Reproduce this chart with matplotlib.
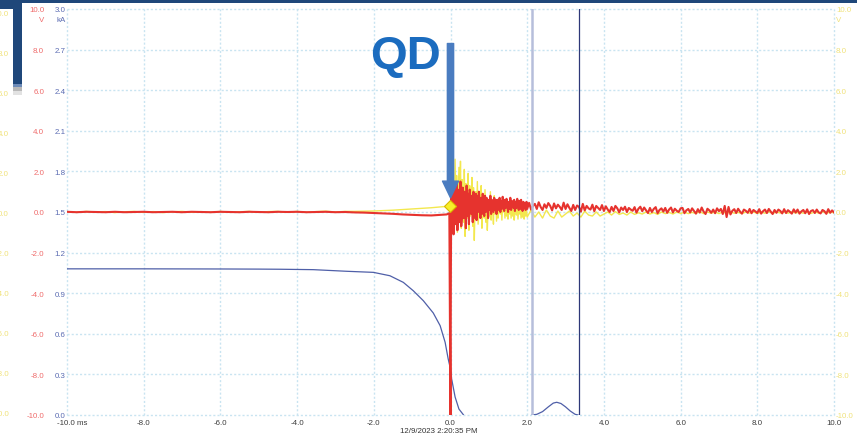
import numpy as np
import matplotlib
matplotlib.use("Agg")
import matplotlib.pyplot as plt
from matplotlib.patches import Rectangle

plt.rcParams['font.family'] = ['Liberation Sans', 'DejaVu Sans']

W, H = 857, 435

# ---- data ----
volt_ticks = [10, 8, 6, 4, 2, 0, -2, -4, -6, -8, -10]
ka_ticks = [3.0, 2.7, 2.4, 2.1, 1.8, 1.5, 1.2, 0.9, 0.6, 0.3, 0.0]
time_ticks = [-10, -8, -6, -4, -2, 0, 2, 4, 6, 8, 10]
time_labels = ['-10.0 ms', '-8.0', '-6.0', '-4.0', '-2.0', '0.0', '2.0', '4.0', '6.0', '8.0', '10.0']
timestamp = '12/9/2023 2:20:35 PM'

# red channel (V), before the quench
t_pre = np.linspace(-10, -0.25, 40)
red_pre = [0.01, -0.01, 0.01, 0.0, -0.01, 0.01, -0.01, 0.0, 0.01, -0.01,
           0.0, 0.01, -0.01, 0.01, 0.0, -0.01, 0.01, 0.0, -0.01, 0.01,
           0.0, -0.01, 0.01, 0.0, 0.01, -0.01, 0.0, 0.01, -0.01, 0.0,
           -0.02, -0.03, -0.05, -0.07, -0.09, -0.12, -0.14, -0.16, -0.17, -0.14]
yel_pre = [0.02, -0.02, 0.03, 0.0, 0.02, -0.03, 0.01, 0.03, -0.02, 0.02,
           -0.03, 0.01, 0.03, -0.01, 0.02, -0.02, 0.03, -0.02, 0.01, 0.03,
           -0.02, 0.02, 0.03, -0.01, 0.03, -0.02, 0.02, 0.04, 0.0, 0.03,
           0.03, 0.04, 0.05, 0.07, 0.09, 0.12, 0.15, 0.18, 0.21, 0.25]

# the quench spike itself
t_spike = [-0.1, -0.03, 0.0, 0.01]
red_spike = [-0.12, -0.06, -10.6, -2.8]
yel_spike = [0.27, 0.29, 0.3, 0.9]

# 0..2 ms after the quench, 0.02 ms steps
t_early = np.linspace(0.02, 2.0, 100)
red_early = [1.2, -0.8, 1.5, -1.1, 0.4, 1.3, -0.6, 1.4, -0.9, 0.2,
             1.1, -0.5, 1.5, -0.7, -0.2, 1.2, -0.3, 1.0, 0.3, -0.8,
             1.3, -0.2, 0.9, -0.6, 1.1, 0.5, -0.1, 0.8, -0.5, 1.0,
             0.2, -0.3, 0.9, -0.4, 0.8, 0.0, 1.0, 0.4, -0.3, 0.7,
             -0.1, 0.9, 0.3, -0.2, 0.8, 0.0, 0.7, 0.5, -0.3, 0.6,
             0.1, 0.8, -0.1, 0.6, 0.3, 0.0, 0.7, 0.1, 0.6, -0.1,
             0.6, 0.25, 0.1, 0.7, 0.0, 0.55, 0.15, 0.75, 0.4, 0.05,
             0.6, 0.2, 0.65, 0.35, 0.0, 0.5, 0.15, 0.7, 0.1, 0.55,
             0.3, 0.2, 0.6, 0.05, 0.5, 0.2, 0.65, 0.4, 0.1, 0.55,
             0.15, 0.6, 0.3, 0.05, 0.5, 0.2, 0.45, 0.1, 0.5, 0.15]
yel_early = [2.4, -0.6, 2.0, 0.3, -0.9, 2.6, -0.4, 1.8, -1.0, 0.5,
             2.2, 0.0, 2.5, -0.8, 1.6, 0.2, -0.5, 2.1, -1.2, 1.4,
             0.4, -0.3, 1.9, -0.9, 1.3, -0.2, 0.6, 1.7, -0.7, 1.2,
             -1.4, 0.3, 1.0, -0.4, 1.5, -0.6, 0.2, 0.9, -0.2, 1.3,
             -0.8, 0.8, 0.1, -0.3, 1.1, -0.5, 0.7, -0.9, 0.2, 0.6,
             -0.2, 1.0, -0.4, 0.5, 0.1, -0.6, 0.8, -0.1, 0.6, -0.45,
             0.5, -0.3, 0.2, 0.6, -0.1, 0.4, -0.4, 0.5, 0.0, 0.35,
             -0.3, 0.45, -0.2, 0.1, -0.35, 0.4, -0.1, 0.25, -0.3, 0.35,
             -0.2, 0.2, -0.4, 0.0, 0.3, -0.15, 0.2, -0.35, 0.25, -0.1,
             0.15, -0.3, 0.2, -0.25, 0.0, -0.35, 0.15, -0.2, 0.1, -0.25]

# 2..10 ms, red at 0.05 ms steps, yellow at 0.1 ms steps
t_late_red = np.linspace(2.05, 10.0, 160)
red_late = [0.45, 0.12, 0.3, 0.4, 0.15, 0.48, 0.25, 0.1, 0.38, 0.2, 0.44, 0.3, 0.08, 0.42, 0.18, 0.36, 0.25, 0.1, 0.46, 0.15,
            0.38, 0.2, 0.05, 0.35, 0.1, 0.32, 0.25, 0.02, 0.4, 0.08, 0.3, 0.18, 0.12, 0.36, 0.04, 0.3, 0.2, 0.1, 0.34, 0.05,
            0.28, 0.12, 0.0, 0.25, 0.05, 0.3, 0.18, -0.02, 0.22, 0.1, 0.26, 0.0, 0.2, 0.12, 0.06, 0.24, -0.03, 0.16, 0.26, 0.04,
            0.22, 0.08, -0.05, 0.2, 0.0, 0.15, 0.24, -0.06, 0.1, 0.18, 0.02, 0.2, -0.04, 0.12, 0.22, -0.02, 0.16, 0.06, 0.0, 0.18,
            0.2, -0.06, 0.08, 0.15, -0.02, 0.18, 0.05, -0.08, 0.14, -0.03, 0.22, 0.02, -0.1, 0.16, 0.08, -0.04, 0.12, -0.06, 0.18, 0.04,
            0.15, -0.1, 0.3, -0.25, 0.25, -0.12, 0.06, 0.14, -0.05, 0.16, 0.02, -0.08, 0.12, 0.06, -0.04, 0.15, -0.06, 0.1, 0.03, -0.05,
            0.14, -0.08, 0.04, 0.12, -0.05, 0.15, 0.02, -0.1, 0.1, -0.04, 0.12, 0.05, -0.07, 0.14, -0.05, 0.09, 0.01, -0.08, 0.13, -0.03,
            0.12, -0.08, 0.03, 0.1, -0.06, 0.13, -0.1, 0.05, 0.09, -0.05, 0.12, -0.02, -0.07, 0.1, 0.04, -0.09, 0.14, -0.04, 0.08, -0.02]
t_late_yel = np.linspace(2.1, 10.0, 80)
yel_late = [0.1, -0.25, 0.0, -0.3, 0.1, -0.2, -0.3, 0.05, -0.25, -0.1,
            0.05, -0.2, -0.05, -0.25, 0.05, -0.15, -0.2, 0.0, -0.2, -0.1,
            0.0, -0.15, 0.02, -0.12, -0.05, -0.15, 0.0, -0.12, -0.04, -0.1,
            0.0, -0.1, -0.03, -0.12, 0.0, -0.08, -0.02, -0.1, 0.0, -0.08,
            0.0, -0.08, -0.02, -0.07, 0.02, -0.08, 0.0, -0.06, 0.0, -0.08,
            0.0, -0.07, 0.01, -0.06, -0.02, -0.08, 0.0, -0.05, 0.0, -0.07,
            0.0, -0.06, 0.01, -0.07, 0.0, -0.05, 0.0, -0.06, 0.01, -0.05,
            0.0, -0.06, 0.0, -0.07, 0.0, -0.05, 0.01, -0.06, 0.0, -0.04]

# current (kA)
blue_t = [-10, -8, -6, -5, -4.45, -3.58, -2.71, -2.01, -1.58, -1.23, -0.97, -0.71,
          -0.45, -0.27, -0.14, -0.06, 0.0, 0.03, 0.12, 0.22, 0.33, 0.45,
          2.1, 2.12, 2.25, 2.4, 2.55, 2.68, 2.77, 2.88, 3.0, 3.12, 3.25, 3.33, 3.36, 10]
blue_ka = [1.080, 1.080, 1.079, 1.078, 1.077, 1.074, 1.062, 1.054, 1.029, 0.980, 0.918, 0.845,
           0.754, 0.660, 0.537, 0.414, 0.340, 0.266, 0.133, 0.044, 0.004, -0.05,
           -0.05, 0.0, 0.005, 0.025, 0.06, 0.088, 0.094, 0.085, 0.06, 0.03, 0.005, 0.0, -0.05, -0.05]

cursor_a, cursor_b = 2.12, 3.34
qd_time, qd_level = 0.0, 0.3

red_t = np.concatenate([t_pre, t_spike, t_early, t_late_red])
red_v = np.concatenate([red_pre, red_spike, red_early, red_late])
yel_t = np.concatenate([t_pre, t_spike, t_early, t_late_yel])
yel_v = np.concatenate([yel_pre, yel_spike, yel_early, yel_late])

RED = '#e6332e'
YEL = '#f3e84e'
BLUE = '#4f5fa8'
RED_TXT = '#ef6b6b'
BLUE_TXT = '#5a6bb2'
YEL_TXT = '#f0e27a'
GRID = '#c9e4f1'

fig = plt.figure(figsize=(W / 100, H / 100), dpi=100)
fig.patch.set_facecolor('white')


def px_rect(x0, y0, x1, y1, color):
    fig.add_artist(Rectangle((x0 / W, 1 - y1 / H), (x1 - x0) / W, (y1 - y0) / H,
                             transform=fig.transFigure, color=color, lw=0, zorder=0))


# window chrome around the scope trace
px_rect(0, 0, W, 4, '#1f477a')
px_rect(0, 0, 13, 10, '#1f477a')
px_rect(13, 0, 22, 85, '#1f477a')
px_rect(13, 85, 22, 88, '#6d8bb8')
px_rect(13, 88, 22, 92, '#b8b8b8')
px_rect(13, 92, 22, 96, '#e2e2e2')
for i, v in enumerate(volt_ticks):
    fig.text(9 / W, 1 - (15 + 40 * i) / H, f'{v:.1f}', ha='right', va='center',
             fontsize=5.7, color=YEL_TXT)

ax = fig.add_axes([67 / W, 19 / H, 767 / W, 406 / H])
ax.set_xlim(-10, 10)
ax.set_ylim(-10, 10)
for s in ax.spines.values():
    s.set_visible(False)
ax.set_xticks(time_ticks)
ax.set_yticks(volt_ticks)
ax.tick_params(length=0, labelbottom=False)
ax.set_yticklabels([f'{v:.1f}' for v in volt_ticks], fontsize=5.7, color=RED_TXT)
ax.tick_params(axis='y', pad=16.5)
for v in time_ticks:
    ax.axvline(v, color=GRID, lw=1.0, ls=(0, (1.5, 1.5)), clip_on=False, zorder=0)
for v in volt_ticks:
    ax.axhline(v, color=GRID, lw=1.0, ls=(0, (1.5, 1.5)), clip_on=False, zorder=0)

# current axis on the left, next to the volts
ax2 = ax.twinx()
ax2.set_ylim(0, 3)
ax2.set_yticks(ka_ticks)
ax2.set_yticklabels([f'{v:.1f}' for v in ka_ticks], fontsize=5.7, color=BLUE_TXT)
ax2.yaxis.set_ticks_position('left')
ax2.tick_params(length=0, pad=1)
for s in ax2.spines.values():
    s.set_visible(False)

# second volt axis on the right (yellow)
ax3 = ax.twinx()
ax3.set_ylim(-10, 10)
ax3.set_yticks(volt_ticks)
ax3.set_yticklabels([f'{v:.1f}' for v in volt_ticks], fontsize=5.7, color=YEL_TXT)
ax3.tick_params(length=0, pad=1.5)
for s in ax3.spines.values():
    s.set_visible(False)

ax3.plot(yel_t, yel_v, color=YEL, lw=1.0, zorder=2)
ax3.plot(red_t, red_v, color=RED, lw=1.5, zorder=3)
ax2.plot(blue_t, blue_ka, color=BLUE, lw=0.9, zorder=4)
ax3.axvline(cursor_a, color='#b6bedb', lw=1.8, zorder=5)
ax3.axvline(cursor_b, color='#2e3878', lw=0.9, zorder=5)

ax3.plot([qd_time], [qd_level], marker='D', ms=6, mfc='#f7ef2a', mec='#d8b800',
         mew=0.8, zorder=7)
ax3.annotate('', xy=(qd_time, 0.7), xytext=(qd_time, 8.3),
             arrowprops=dict(arrowstyle='simple,head_length=1.2,head_width=1.15,tail_width=0.45',
                             mutation_scale=10, color='#4a7cc0', shrinkA=0, shrinkB=0),
             zorder=8)
ax3.text(-0.25, 7.7, 'QD', ha='right', va='center', fontsize=34, fontweight='bold',
         color='#1b6cbf', zorder=8)

# unit labels and time axis labels
fig.text(44 / W, 1 - 20 / H, 'V', ha='right', va='center', fontsize=5.7, color=RED_TXT)
fig.text(66 / W, 1 - 20 / H, 'kA', ha='right', va='center', fontsize=5.7, color=BLUE_TXT)
fig.text(836 / W, 1 - 20 / H, 'V', ha='left', va='center', fontsize=5.7, color=YEL_TXT)
for v, lab in zip(time_ticks, time_labels):
    if v == -10:
        ax.text(v - 0.26, -10.35, lab, ha='left', va='center', fontsize=5.7, color='#3c3c3c')
    else:
        ax.text(v, -10.35, lab, ha='center', va='center', fontsize=5.7, color='#3c3c3c')
fig.text(439 / W, 1 - 428.5 / H, timestamp, ha='center', va='top', fontsize=5.7, color='#333333')

fig.savefig('out.png', dpi=100)
